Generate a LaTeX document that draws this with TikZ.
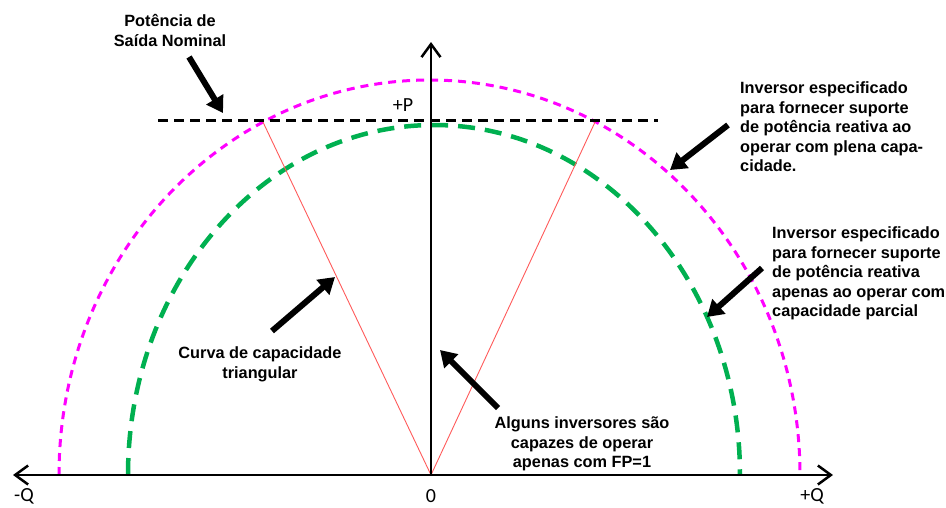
\documentclass[tikz,border=0pt]{standalone}
\usepackage{fontspec}
\setmainfont{Liberation Sans}
\newfontfamily\axisfont{Carlito}
\usetikzlibrary{arrows.meta}
\definecolor{capmag}{RGB}{255,0,255}
\definecolor{capgreen}{RGB}{0,176,80}
\definecolor{capred}{RGB}{255,90,90}
\tikzset{barb/.tip={Straight Barb[length=13pt,width=19pt]}}

\begin{document}
\begin{tikzpicture}[x=1pt,y=-1pt,
    axisline/.style={line width=2.5pt},
    bigarrow/.style={line width=6pt,-{Triangle[length=16pt,width=19pt]}},
    note/.style={font=\fontsize{16.3}{19.6}\selectfont\bfseries,inner sep=0pt},
    axlabel/.style={font=\axisfont\fontsize{20}{24}\selectfont,inner sep=0pt}]
    \useasboundingbox (0,0) rectangle (946,507);

    % axes
    \coordinate (O) at (431,475);
    \coordinate (qneg) at (13,475);
    \coordinate (qpos) at (833,475);
    \coordinate (ptop) at (431,42);

    % rated power line
    \coordinate (nomleft) at (158,120);
    \coordinate (nomright) at (658,120);
    \coordinate (triL) at (262,120);
    \coordinate (triR) at (596,120);

    % capability curves
    \draw[capmag,line width=3pt,dash pattern=on 8pt off 6pt]
        (59,475) arc[start angle=180,end angle=360,x radius=370.5,y radius=395];
    \draw[capgreen,line width=4.5pt,dash pattern=on 17pt off 10pt]
        (128,475) arc[start angle=180,end angle=360,x radius=306,y radius=350];
    \draw[capred,line width=0.9pt] (triL) -- (O) -- (triR);
    \draw[line width=3pt,dash pattern=on 10pt off 6pt] (nomleft) -- (nomright);

    \draw[axisline,barb-barb] (qneg) -- (qpos);
    \draw[axisline,-barb] (O) -- (ptop);

    \node[axlabel] (plabel) at (403,105) {+P};
    \node[axlabel] (zero) at (431,496) {0};
    \node[axlabel] (qnlabel) at (24,496) {-Q};
    \node[axlabel] (qplabel) at (812,496) {+Q};

    % notes
    \node[note,anchor=north,align=center] (nominal) at (170,14.5)
        {Potência de\\Saída Nominal};
    \node[note,anchor=north west,align=left] (full) at (740,81.5)
        {Inversor especificado\\para fornecer suporte\\de potência reativa ao\\operar com plena capa-\\cidade.};
    \node[note,anchor=north west,align=left] (partial) at (772,226.5)
        {Inversor especificado\\para fornecer suporte\\de potência reativa\\apenas ao operar com\\capacidade parcial};
    \node[note,anchor=north,align=center] (tri) at (260,346.5)
        {Curva de capacidade\\triangular};
    \node[note,anchor=north,align=center] (unity) at (582,416.5)
        {Alguns inversores são\\capazes de operar\\apenas com FP=1};

    % pointers
    \coordinate (a1) at (189,57);   \coordinate (b1) at (223,113);
    \coordinate (a2) at (728,125);  \coordinate (b2) at (670,170);
    \coordinate (a3) at (762,268);  \coordinate (b3) at (707,317);
    \coordinate (a4) at (272,331);  \coordinate (b4) at (335,277);
    \coordinate (a5) at (498,408);  \coordinate (b5) at (440,350);
    \draw[bigarrow] (a1) -- (b1);
    \draw[bigarrow] (a2) -- (b2);
    \draw[bigarrow] (a3) -- (b3);
    \draw[bigarrow] (a4) -- (b4);
    \draw[bigarrow] (a5) -- (b5);
\end{tikzpicture}
\end{document}
